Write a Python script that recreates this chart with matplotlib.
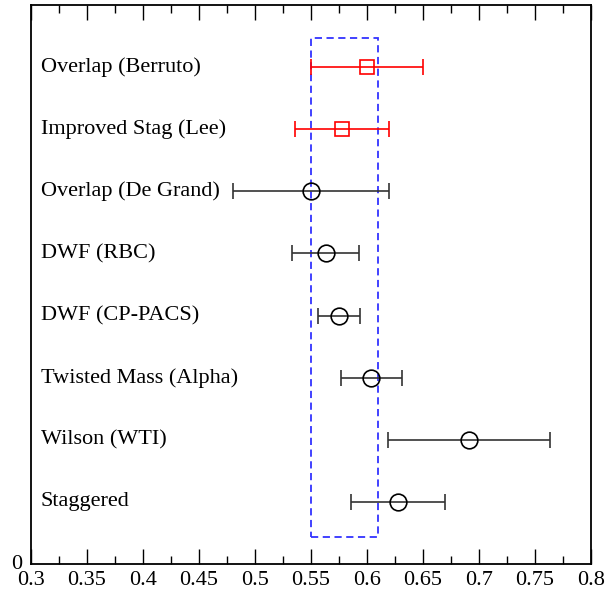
import numpy as np
import matplotlib
matplotlib.use("Agg")
import matplotlib.pyplot as plt
from matplotlib.patches import Rectangle
from matplotlib.ticker import MultipleLocator, FuncFormatter

# rows from bottom to top
labels = ["Staggered", "Wilson (WTI)", "Twisted Mass (Alpha)", "DWF (CP-PACS)",
          "DWF (RBC)", "Overlap (De Grand)", "Improved Stag (Lee)", "Overlap (Berruto)"]
values = [0.628, 0.691, 0.604, 0.575, 0.563, 0.550, 0.578, 0.600]
errors = [0.042, 0.072, 0.027, 0.019, 0.030, 0.070, 0.042, 0.050]
is_red = [False, False, False, False, False, False, True, True]

band_lo, band_hi = 0.55, 0.61

plt.rcParams.update({
    "font.family": ["Liberation Serif", "DejaVu Serif"],
    "font.size": 16,
})

fig = plt.figure(figsize=(6.05, 5.95), dpi=100)
ax = fig.add_axes([0.0512, 0.0521, 0.9257, 0.9395])

rows = np.arange(1, len(labels) + 1)
for y, v, e, red, lab in zip(rows, values, errors, is_red, labels):
    if red:
        ax.errorbar(v, y, xerr=e, fmt="s", color="red", mfc="none", mec="red",
                    ms=10, mew=1.2, capsize=6, capthick=1.2, elinewidth=1.2)
    else:
        ax.errorbar(v, y, xerr=e, fmt="o", color="#333333", mfc="none", mec="black",
                    ms=12, mew=1.2, capsize=6, capthick=1.2, elinewidth=1.2)
    ax.text(0.3087, y, lab, ha="left", va="center", fontsize=16)

ax.add_patch(Rectangle((band_lo, 0.43), band_hi - band_lo, 8.47 - 0.43,
                       fill=False, ec="#3333ff", lw=1.3, ls=(0, (4, 2.5))))

ax.set_xlim(0.3, 0.8)
ax.set_ylim(0, 9)
ax.xaxis.set_major_locator(MultipleLocator(0.05))
ax.xaxis.set_minor_locator(MultipleLocator(0.025))
ax.xaxis.set_major_formatter(FuncFormatter(lambda x, p: f"{x:.2f}".rstrip("0").rstrip(".")))
ax.tick_params(axis="x", which="both", direction="in", top=True, labelsize=16, pad=5)
ax.tick_params(axis="x", which="major", length=11, width=1)
ax.tick_params(axis="x", which="minor", length=5.5, width=1)
# the lone "0" sits just above the x tick labels
ax.set_yticks([0.04])
ax.set_yticklabels(["0"])
ax.tick_params(axis="y", length=0, labelsize=16, pad=6)
for s in ax.spines.values():
    s.set_linewidth(1.3)

plt.savefig("out.png", dpi=100)
plt.close()
